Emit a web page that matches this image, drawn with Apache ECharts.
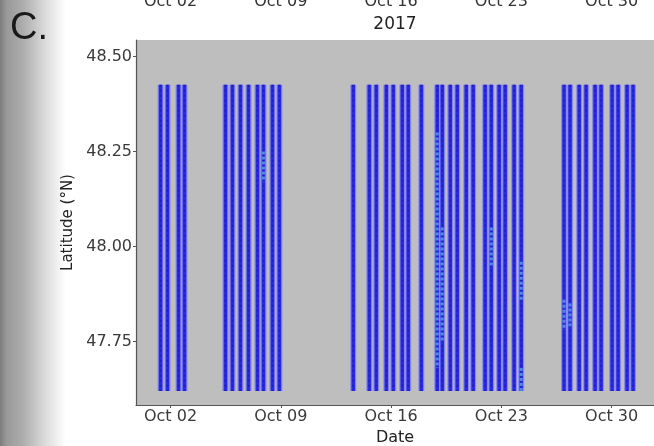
<!DOCTYPE html>
<html><head><meta charset="utf-8">
<script src="https://cdn.jsdelivr.net/npm/echarts@6/dist/echarts.min.js"></script>
<style>html,body{margin:0;padding:0;background:#fff}#c{width:654px;height:446px}</style>
</head><body><div id="c"></div>
<script>
// x values are days of October 2017 (fractional)
const tickDays = [2, 9, 16, 23, 30];
const tickLabels = ['Oct 02', 'Oct 09', 'Oct 16', 'Oct 23', 'Oct 30'];
const latTicks = [47.75, 48.00, 48.25, 48.50];
const latTickLabels = ['47.75', '48.00', '48.25', '48.50'];
// one entry per transect line (day of October)
const transectDays = [
  1.37, 1.81, 2.51, 2.89,
  5.49, 5.93, 6.44, 6.95, 7.52, 7.90, 8.47, 8.91,
  13.60, 14.62, 15.06, 15.70, 16.14, 16.71, 17.09, 17.92, 18.93, 19.25,
  19.76, 20.20, 20.77, 21.21, 21.97, 22.36, 22.86, 23.24, 23.81, 24.26,
  26.98, 27.36, 27.94, 28.38, 28.95, 29.33, 30.03, 30.41, 30.98, 31.36
];
const transectSouth = [
  47.62, 47.62, 47.62, 47.62,
  47.62, 47.62, 47.62, 47.62, 47.62, 47.62, 47.62, 47.62,
  47.62, 47.62, 47.62, 47.62, 47.62, 47.62, 47.62, 47.62, 47.62, 47.62,
  47.62, 47.62, 47.62, 47.62, 47.62, 47.62, 47.62, 47.62, 47.62, 47.62,
  47.62, 47.62, 47.62, 47.62, 47.62, 47.62, 47.62, 47.62, 47.62, 47.62
];
const transectNorth = [
  48.425, 48.425, 48.425, 48.425,
  48.425, 48.425, 48.425, 48.425, 48.425, 48.425, 48.425, 48.425,
  48.425, 48.425, 48.425, 48.425, 48.425, 48.425, 48.425, 48.425, 48.425, 48.425,
  48.425, 48.425, 48.425, 48.425, 48.425, 48.425, 48.425, 48.425, 48.425, 48.425,
  48.425, 48.425, 48.425, 48.425, 48.425, 48.425, 48.425, 48.425, 48.425, 48.425
];
// lighter (cyan) stretches along some transects
const cyanDays = [18.93, 19.25, 7.90, 26.98, 27.36, 24.26, 24.26, 22.36];
const cyanSouth = [47.68, 47.75, 48.17, 47.78, 47.79, 47.86, 47.62, 47.95];
const cyanNorth = [48.30, 48.05, 48.25, 47.86, 47.85, 47.96, 47.68, 48.05];

const xMin = -0.19, xMax = 32.69;
const yMin = 47.583, yMax = 48.543;

const chart = echarts.init(document.getElementById('c'), null, {renderer: 'canvas'});

function transectItem(params, api) {
  const top = api.coord([api.value(0), api.value(2)]);
  const bot = api.coord([api.value(0), api.value(1)]);
  const h = bot[1] - top[1];
  return {type: 'group', children: [
    {type: 'rect', shape: {x: top[0] - 3, y: top[1], width: 6, height: h}, style: {fill: '#8787f0'}},
    {type: 'rect', shape: {x: top[0] - 1.8, y: top[1], width: 3.6, height: h}, style: {fill: '#2a2ade'}},
    {type: 'line', shape: {x1: top[0], y1: top[1], x2: bot[0], y2: bot[1]},
      style: {stroke: '#15159a', lineWidth: 1.4, lineDash: [2, 3], opacity: 0.6}}
  ]};
}
function cyanItem(params, api) {
  const top = api.coord([api.value(0), api.value(2)]);
  const bot = api.coord([api.value(0), api.value(1)]);
  return {type: 'line', shape: {x1: top[0], y1: top[1], x2: bot[0], y2: bot[1]},
    style: {stroke: '#6fd8f5', lineWidth: 3, lineDash: [3, 2], opacity: 0.55}};
}

const font = 'DejaVu Sans';
chart.setOption({
  animation: false,
  backgroundColor: '#ffffff',
  grid: {left: 136, top: 40, right: 0, bottom: 41, show: true, backgroundColor: '#bebebe', borderWidth: 0,
    containLabel: false, outerBoundsMode: 'none'},
  xAxis: {
    type: 'value', min: xMin, max: xMax,
    axisLine: {show: true, onZero: false, lineStyle: {color: '#555', width: 1.2}},
    axisTick: {show: true, length: 3, customValues: tickDays, lineStyle: {color: '#555'}},
    axisLabel: {customValues: tickDays, formatter: v => tickLabels[tickDays.indexOf(v)],
      fontFamily: font, fontSize: 16, color: '#3a3a3a', margin: 4},
    splitLine: {show: false},
    name: 'Date', nameLocation: 'middle', nameGap: 22,
    nameTextStyle: {fontFamily: font, fontSize: 16, color: '#222'}
  },
  yAxis: {
    type: 'value', min: yMin, max: yMax,
    axisLine: {show: true, onZero: false, lineStyle: {color: '#555', width: 1.2}},
    axisTick: {show: true, length: 3, customValues: latTicks, lineStyle: {color: '#555'}},
    axisLabel: {customValues: latTicks, formatter: v => latTickLabels[latTicks.indexOf(v)],
      fontFamily: font, fontSize: 16, color: '#3a3a3a', margin: 4},
    splitLine: {show: false},
    name: 'Latitude (°N)', nameLocation: 'middle', nameGap: 56,
    nameTextStyle: {fontFamily: font, fontSize: 15, color: '#222'}
  },
  series: [
    {type: 'custom', renderItem: transectItem, clip: true,
      data: transectDays.map((d, i) => [d, transectSouth[i], transectNorth[i]])},
    {type: 'custom', renderItem: cyanItem, clip: true,
      data: cyanDays.map((d, i) => [d, cyanSouth[i], cyanNorth[i]])}
  ]
});

const graphics = [
  {type: 'rect', z: -10, shape: {x: 0, y: 0, width: 66, height: 446}, silent: true,
    style: {fill: new echarts.graphic.LinearGradient(0, 0, 1, 0, [
      {offset: 0, color: '#7c7c7c'}, {offset: 0.1, color: '#999999'}, {offset: 0.35, color: '#adadad'},
      {offset: 0.7, color: '#dddddd'}, {offset: 1, color: '#ffffff'}])}},
  {type: 'text', x: 10, y: 29, z: 10, style: {text: 'C.', font: '38px Liberation Sans', fill: '#1a1a1a', verticalAlign: 'middle'}},
  {type: 'text', x: 395, y: 25, z: 10, style: {text: '2017', font: '17px ' + font, fill: '#222', align: 'center', verticalAlign: 'middle'}}
];
tickDays.forEach((d, i) => {
  const px = chart.convertToPixel({xAxisIndex: 0}, d);
  graphics.push({type: 'text', x: px, y: 10, z: 10,
    style: {text: tickLabels[i], font: '16px ' + font, fill: '#333', align: 'center', verticalAlign: 'bottom'}});
});
chart.setOption({graphic: graphics});
</script>
</body></html>
